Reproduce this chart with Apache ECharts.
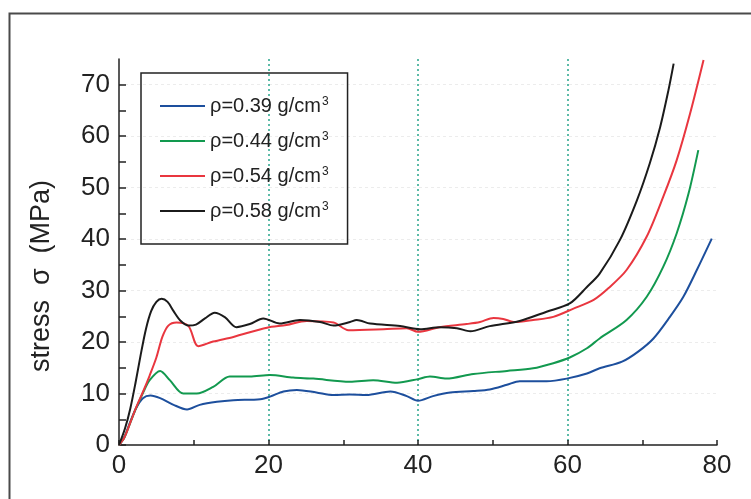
<!DOCTYPE html>
<html>
<head>
<meta charset="utf-8">
<script src="https://cdn.jsdelivr.net/npm/echarts@6/dist/echarts.min.js"></script>
<style>html,body{margin:0;padding:0;background:#fff}#c{width:751px;height:499px}</style>
</head>
<body>
<div id="c"></div>
<script>
const seriesNames = ['ρ=0.39 g/cm³', 'ρ=0.44 g/cm³', 'ρ=0.54 g/cm³', 'ρ=0.58 g/cm³'];
const seriesColors = ['#1d4f9d', '#12994f', '#e9363f', '#1b1b1b'];

const rho039 = [[0,0],[0.7,1.5],[1.5,4.5],[2.3,7.2],[3.2,9.1],[4.2,9.6],[5.5,9.1],[7.3,7.8],[9.1,6.9],[10.8,7.8],[13.1,8.4],[15.3,8.7],[18.9,8.9],[20.2,9.4],[22,10.4],[23.8,10.7],[26.4,10.2],[28.7,9.7],[30.9,9.8],[33.1,9.7],[36.3,10.4],[38.5,9.5],[40,8.6],[42,9.5],[44.3,10.2],[47.4,10.5],[49.6,10.8],[51.9,11.7],[53.6,12.4],[57.2,12.4],[59.9,12.9],[62.6,13.9],[64.3,14.9],[67.3,16.2],[69.5,18.2],[71.5,20.7],[73.7,24.9],[75.5,28.8],[77.3,34.0],[79.3,40.1]];
const rho044 = [[0,0],[0.7,1.4],[1.5,4.3],[2.3,7.2],[3.2,10.1],[4.1,12.6],[5.5,14.4],[6.8,12.6],[8.6,10.0],[10.4,10.0],[12.6,11.3],[14.8,13.3],[17.5,13.3],[20.2,13.6],[23.3,13.1],[26,12.9],[30.9,12.3],[34,12.6],[37.2,12.1],[40,12.8],[41.6,13.3],[43.8,12.9],[47.4,13.8],[51.9,14.4],[55.4,14.9],[58.1,15.9],[60.3,17.0],[62.6,18.8],[64.3,20.7],[67.9,24.3],[70.6,28.8],[72.8,34.6],[74.6,41.1],[76.2,48.9],[77.5,57.3]];
const rho054 = [[0,0],[0.7,1.4],[1.5,4.3],[2.3,7.3],[3.2,10.3],[4.1,13.5],[5,17.0],[5.8,21.0],[6.6,23.2],[7.7,23.8],[9.3,23.1],[10.6,19.2],[12.6,20.1],[15.3,21.0],[19.8,22.8],[22.4,23.3],[25.1,24.1],[28.7,23.8],[30.7,22.3],[35.4,22.5],[38.5,22.7],[40,22.0],[42.9,22.9],[46.5,23.5],[48.3,23.9],[50.1,24.7],[51.4,24.5],[52.8,23.9],[55.4,24.3],[58.1,24.9],[60.8,26.5],[63.5,28.2],[65.5,30.5],[67.9,34.0],[70.6,40.5],[72.8,48.2],[74.6,55.3],[76.4,64.4],[78.2,74.8]];
const rho058 = [[0,0],[0.8,3.2],[1.5,7.0],[2.2,12.0],[2.9,17.5],[3.6,22.5],[4.3,26.0],[5,27.8],[5.7,28.4],[6.5,27.8],[7.3,26.0],[8.2,24.2],[9.3,23.2],[10.3,23.4],[11.5,24.6],[12.8,25.7],[14.2,24.8],[15.7,22.9],[17.5,23.5],[19.3,24.6],[21.5,23.6],[24.2,24.3],[26.9,23.9],[28.7,23.2],[30.9,23.9],[31.8,24.3],[33.6,23.6],[37.6,23.1],[40.3,22.5],[42.9,22.9],[45.2,22.7],[47,22.1],[49.6,23.1],[53.6,24.1],[57.2,25.9],[60.3,27.5],[62.6,30.7],[64.3,33.3],[67,39.8],[69.3,47.6],[71,54.7],[72.4,61.8],[73.5,68.9],[74.2,74.1]];
const seriesData = [rho039, rho044, rho054, rho058];

const yTitle = 'stress  σ  (MPa)';

const chart = echarts.init(document.getElementById('c'), null, {renderer: 'canvas'});
const font = 'Liberation Sans, Arial, sans-serif';
chart.setOption({
  animation: false,
  backgroundColor: '#fff',
  graphic: [{
    type: 'rect', left: 7, top: 11, silent: true,
    shape: {width: 770, height: 520},
    style: {fill: 'none', stroke: '#4a4a4a', lineWidth: 2}
  }],
  grid: {left: 119, right: 34, top: 59, bottom: 54},
  legend: {
    orient: 'vertical', left: 141, top: 73,
    data: seriesNames,
    icon: 'rect',
    itemWidth: 45, itemHeight: 2, itemGap: 14,
    padding: [23, 19, 22, 19],
    borderColor: '#222', borderWidth: 1.5,
    formatter: n => '{a|' + n.replace('³', '') + '}{s|3}',
    textStyle: {
      rich: {
        a: {fontFamily: font, fontSize: 20, color: '#222', lineHeight: 20},
        s: {fontFamily: font, fontSize: 12, color: '#222', verticalAlign: 'top', lineHeight: 20, padding: [0, 0, 9, 1]}
      }
    }
  },
  xAxis: [{
    type: 'value', min: 0, max: 80, interval: 10,
    axisLine: {lineStyle: {color: '#222', width: 1.5}},
    axisTick: {inside: true, length: 5, lineStyle: {color: '#222', width: 1.5}},
    axisLabel: {fontFamily: font, fontSize: 26, color: '#222', margin: 8,
      formatter: v => (v % 20 === 0 ? String(v) : '')},
    splitLine: {show: false}
  }, {
    type: 'value', min: 0, max: 80, interval: 20, position: 'bottom',
    axisLine: {show: false}, axisTick: {show: false}, axisLabel: {show: false},
    splitLine: {show: true, showMinLine: false, showMaxLine: false,
      lineStyle: {color: '#27a58c', width: 1.5, type: [2, 3]}}
  }],
  yAxis: [{
    type: 'value', min: 0, max: 75, interval: 5,
    name: yTitle, nameLocation: 'middle', nameGap: 64, nameRotate: 90,
    nameTextStyle: {fontFamily: font, fontSize: 27, color: '#222', padding: [0, 48, 0, 0]},
    axisLine: {lineStyle: {color: '#222', width: 1.5}},
    axisTick: {inside: true, length: 7, lineStyle: {color: '#222', width: 1.5}},
    axisLabel: {fontFamily: font, fontSize: 26, color: '#222', margin: 9, showMaxLabel: false,
      formatter: v => (v % 10 === 0 ? String(v) : '')},
    splitLine: {show: false}
  }, {
    type: 'value', min: 0, max: 75, interval: 10, position: 'left',
    axisLine: {show: false}, axisTick: {show: false}, axisLabel: {show: false},
    splitLine: {show: true, showMinLine: false, showMaxLine: false,
      lineStyle: {color: '#ececec', width: 1, type: [3, 3]}}
  }],
  series: seriesNames.map((n, i) => ({
    name: n, type: 'line', data: seriesData[i],
    xAxisIndex: 0, yAxisIndex: 0,
    smooth: 0.3, symbol: 'none',
    lineStyle: {color: seriesColors[i], width: 2},
    itemStyle: {color: seriesColors[i]}
  }))
});
</script>
</body>
</html>
